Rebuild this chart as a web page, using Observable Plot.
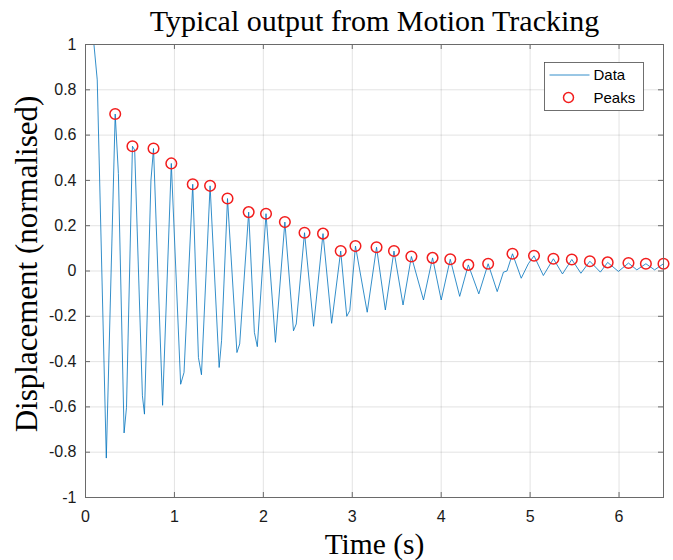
<!DOCTYPE html>
<html><head><meta charset="utf-8">
<script src="https://cdn.jsdelivr.net/npm/d3@7"></script>
<script src="https://cdn.jsdelivr.net/npm/@observablehq/plot@0.6"></script>
<style>html,body{margin:0;padding:0;background:#fff}</style>
</head><body><div id="chart"></div>
<script>
// ---- data ----
const time = [0, 0.095, 0.132, 0.234, 0.334, 0.370, 0.434, 0.461, 0.528, 0.553, 0.640, 0.663, 0.736, 0.765, 0.867, 0.965, 1.070, 1.108, 1.206, 1.270, 1.304, 1.401, 1.503, 1.530, 1.597, 1.703, 1.734, 1.835, 1.899, 1.932, 2.030, 2.136, 2.242, 2.339, 2.370, 2.463, 2.565, 2.671, 2.768, 2.870, 2.938, 2.972, 3.036, 3.168, 3.273, 3.372, 3.469, 3.571, 3.665, 3.801, 3.903, 4.000, 4.102, 4.208, 4.305, 4.423, 4.528, 4.630, 4.700, 4.740, 4.802, 4.900, 4.980, 5.044, 5.149, 5.262, 5.364, 5.469, 5.571, 5.672, 5.790, 5.872, 5.993, 6.106, 6.200, 6.302, 6.400, 6.500];
const displacement = [1.0, 1.0, 0.844, -0.826, 0.693, 0.430, -0.715, -0.603, 0.551, 0.534, -0.551, -0.632, 0.400, 0.541, -0.593, 0.475, -0.500, -0.448, 0.383, -0.382, -0.458, 0.376, -0.426, -0.308, 0.320, -0.360, -0.322, 0.260, -0.271, -0.334, 0.253, -0.315, 0.216, -0.264, -0.234, 0.169, -0.244, 0.165, -0.231, 0.088, -0.200, -0.175, 0.110, -0.182, 0.105, -0.172, 0.088, -0.150, 0.064, -0.128, 0.058, -0.128, 0.052, -0.112, 0.027, -0.101, 0.032, -0.091, -0.005, 0.000, 0.076, -0.032, 0.032, 0.067, -0.020, 0.054, -0.013, 0.051, -0.010, 0.043, -0.005, 0.038, -0.002, 0.035, 0.005, 0.032, 0.005, 0.032];
const peakTime = [0.334, 0.528, 0.765, 0.965, 1.206, 1.401, 1.597, 1.835, 2.030, 2.242, 2.463, 2.671, 2.870, 3.036, 3.273, 3.469, 3.665, 3.903, 4.102, 4.305, 4.528, 4.802, 5.044, 5.262, 5.469, 5.672, 5.872, 6.106, 6.302, 6.500];
const peakValue = [0.693, 0.551, 0.541, 0.475, 0.383, 0.376, 0.320, 0.260, 0.253, 0.216, 0.169, 0.165, 0.088, 0.110, 0.105, 0.088, 0.064, 0.058, 0.052, 0.027, 0.032, 0.076, 0.067, 0.054, 0.051, 0.043, 0.038, 0.035, 0.032, 0.032];
const xTicks = [0, 1, 2, 3, 4, 5, 6];
const yTicks = [-1, -0.8, -0.6, -0.4, -0.2, 0, 0.2, 0.4, 0.6, 0.8, 1];
const xDomain = [0, 6.5];
const yDomain = [-1, 1];
const titleText = "Typical output from Motion Tracking";
const xLabel = "Time (s)";
const yLabel = "Displacement (normalised)";
const seriesNames = ["Data", "Peaks"];

// ---- layout & style ----
const W = 673, H = 560, mL = 85, mR = 10, mT = 44, mB = 63;
const innerW = W - mL - mR, innerH = H - mT - mB;
const serif = "'Liberation Serif', 'Times New Roman', serif";
const sans = "'Liberation Sans', Arial, sans-serif";
const axisColor = "#6a6a6a";
const lineColor = "#0072BD";
const peakColor = "#f21d1d";

const lineData = time.map((t, i) => ({t, v: displacement[i]}));
const peakData = peakTime.map((t, i) => ({t, v: peakValue[i]}));

const chart = Plot.plot({
  width: W, height: H,
  marginLeft: mL, marginRight: mR, marginTop: mT, marginBottom: mB,
  style: {background: "white", fontFamily: sans, fontSize: "16px", color: "#1a1a1a"},
  x: {domain: xDomain},
  y: {domain: yDomain},
  marks: [
    Plot.gridX(xTicks, {stroke: "#262626", strokeOpacity: 0.13}),
    Plot.gridY(yTicks, {stroke: "#262626", strokeOpacity: 0.13}),
    Plot.line(lineData, {x: "t", y: "v", stroke: lineColor, strokeWidth: 0.8, clip: true}),
    Plot.dot(peakData, {x: "t", y: "v", r: 5.3, stroke: peakColor, strokeWidth: 1.5, fill: "none"}),
    Plot.frame({stroke: axisColor}),
    Plot.ruleX(xTicks, {x: d => d, stroke: axisColor, insetTop: innerH - 5}),
    Plot.ruleX(xTicks, {x: d => d, stroke: axisColor, insetBottom: innerH - 5}),
    Plot.ruleY(yTicks, {y: d => d, stroke: axisColor, insetRight: innerW - 5}),
    Plot.ruleY(yTicks, {y: d => d, stroke: axisColor, insetLeft: innerW - 5}),
    Plot.axisX(xTicks, {tickSize: 0, tickPadding: 13, label: null, tickFormat: d => String(d)}),
    Plot.axisY(yTicks, {tickSize: 0, tickPadding: 9, label: null, tickFormat: d => String(d)}),
    Plot.text([titleText], {text: d => d, frameAnchor: "top", dy: -14, lineAnchor: "bottom", fontFamily: serif, fontSize: 30, fill: "#000"}),
    Plot.text([xLabel], {text: d => d, frameAnchor: "bottom", dy: 56, lineAnchor: "bottom", fontFamily: serif, fontSize: 29.5, fill: "#000"}),
    Plot.text([yLabel], {text: d => d, frameAnchor: "left", dx: -58, dy: -7, rotate: -90, textAnchor: "middle", lineAnchor: "middle", fontFamily: serif, fontSize: 31, fill: "#000"})
  ]
});
document.getElementById("chart").appendChild(chart);

// ---- legend inside the axes (top-right) ----
const svg = d3.select(chart);
const lx = W - mR - 19.5 - 99, ly = mT + 18.5;
const lg = svg.append("g").attr("font-family", sans).attr("font-size", 15).attr("fill", "#000").attr("text-anchor", "start");
lg.append("rect").attr("x", lx).attr("y", ly).attr("width", 99).attr("height", 48)
  .attr("fill", "white").attr("stroke", "#4d4d4d").attr("stroke-width", 0.8);
lg.append("line").attr("x1", lx + 5).attr("x2", lx + 45).attr("y1", ly + 12.5).attr("y2", ly + 12.5)
  .attr("stroke", lineColor).attr("stroke-width", 0.8);
lg.append("text").attr("x", lx + 49).attr("y", ly + 12.5).attr("dy", "0.35em").attr("text-anchor", "start").text(seriesNames[0]);
lg.append("circle").attr("cx", lx + 24).attr("cy", ly + 35).attr("r", 5).attr("fill", "none")
  .attr("stroke", peakColor).attr("stroke-width", 1.5);
lg.append("text").attr("x", lx + 49).attr("y", ly + 35).attr("dy", "0.35em").attr("text-anchor", "start").text(seriesNames[1]);
</script>
</body></html>
